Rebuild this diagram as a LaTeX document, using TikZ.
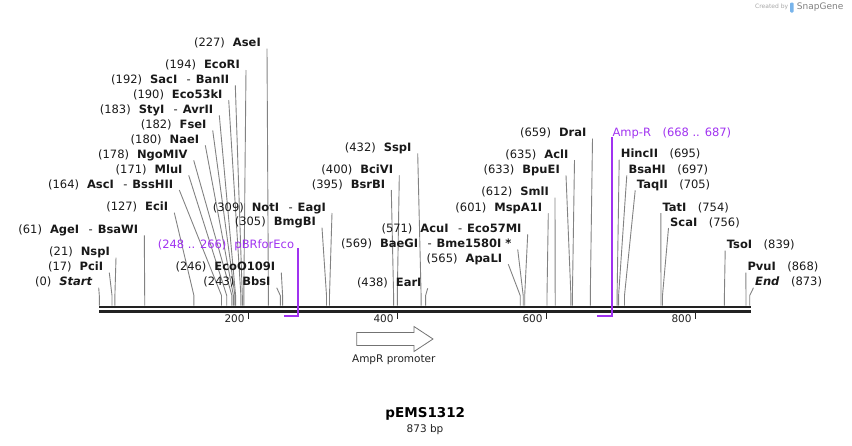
\documentclass[tikz,border=0pt]{standalone}
\usepackage{fontspec}
\setmainfont{DejaVu Sans}
\usetikzlibrary{calc}
\definecolor{featpurple}{RGB}{160,50,240}
\definecolor{bbone}{RGB}{34,34,34}
\definecolor{cutgray}{RGB}{130,130,130}
\definecolor{snapblue}{RGB}{120,180,235}
\newcommand{\lgap}{\hspace{8pt}}
\newcommand{\rgap}{\hspace{11.5pt}}
\newcommand{\orcut}{\hspace{9.4pt}-\hspace{5pt}}
\tikzset{%
  lab/.style      = {font=\fontsize{11.5}{13}\selectfont, text=black!90, inner sep=0pt,
    text height=8.4pt, text depth=0pt},
  labl/.style     = {lab, anchor=east},
  labr/.style     = {lab, anchor=west},
  cutline/.style  = {draw=cutgray, line width=0.9pt},
  featline/.style = {draw=featpurple, line width=1.6pt},
  backbone/.style = {draw=bbone, line width=2.7pt},
  tickmark/.style = {draw=bbone, line width=1.4pt},
  ticklab/.style  = {font=\fontsize{10.5}{12}\selectfont, text=bbone, inner sep=0pt, anchor=east}
}

\begin{document}
\begin{tikzpicture}[x=1pt, y=-1pt]
    \useasboundingbox (0,0) rectangle (852,445);

    %sites on the backbone
    \coordinate (s0) at (99.3,305.5);   \coordinate (s17) at (112.0,305.5);  \coordinate (s21) at (114.9,305.5);
    \coordinate (s61) at (144.7,305.5); \coordinate (s127) at (193.9,305.5); \coordinate (s164) at (221.5,305.5);
    \coordinate (s171) at (226.7,305.5); \coordinate (s178) at (231.9,305.5); \coordinate (s180) at (233.4,305.5);
    \coordinate (s182) at (234.9,305.5); \coordinate (s183) at (235.6,305.5); \coordinate (s190) at (240.9,305.5);
    \coordinate (s192) at (242.3,305.5); \coordinate (s194) at (243.8,305.5); \coordinate (s227) at (268.4,305.5);
    \coordinate (s243) at (280.3,305.5); \coordinate (s246) at (282.6,305.5); \coordinate (s305) at (326.5,305.5);
    \coordinate (s309) at (329.5,305.5); \coordinate (s395) at (393.6,305.5); \coordinate (s400) at (397.3,305.5);
    \coordinate (s432) at (421.1,305.5); \coordinate (s438) at (425.6,305.5); \coordinate (s565) at (520.2,305.5);
    \coordinate (s569) at (523.2,305.5); \coordinate (s571) at (524.7,305.5); \coordinate (s601) at (547.0,305.5);
    \coordinate (s612) at (555.2,305.5); \coordinate (s633) at (570.9,305.5); \coordinate (s635) at (572.4,305.5);
    \coordinate (s659) at (590.3,305.5); \coordinate (s695) at (617.1,305.5); \coordinate (s697) at (618.6,305.5);
    \coordinate (s705) at (624.5,305.5); \coordinate (s754) at (661.0,305.5); \coordinate (s756) at (662.5,305.5);
    \coordinate (s839) at (724.4,305.5); \coordinate (s868) at (746.0,305.5); \coordinate (s873) at (749.7,305.5);

    %backbone
    \draw[backbone] (99.3,307) -- (751,307);
    \draw[backbone] (99.3,311.3) -- (751,311.3);

    %ruler
    \draw[tickmark] (248.3,312.5) -- (248.3,319);
    \node[ticklab] (t200) at (244.8,319) {200};
    \draw[tickmark] (397.3,312.5) -- (397.3,319);
    \node[ticklab] (t400) at (393.8,319) {400};
    \draw[tickmark] (546.3,312.5) -- (546.3,319);
    \node[ticklab] (t600) at (542.8,319) {600};
    \draw[tickmark] (695.3,312.5) -- (695.3,319);
    \node[ticklab] (t800) at (691.8,319) {800};

    %left cluster
    \node[labl] (aseI) at (261,42.7) {(227)\lgap\textbf{AseI}};
    \draw[cutline] ([shift={(6,6)}]aseI.east) -- ([yshift=10pt]s227) -- (s227);
    \node[labl] (ecoRI) at (240,64) {(194)\lgap\textbf{EcoRI}};
    \draw[cutline] ([shift={(6,6)}]ecoRI.east) -- ([yshift=10pt]s194) -- (s194);
    \node[labl] (sacI) at (229.3,79.3) {(192)\lgap\textbf{SacI}\orcut\textbf{BanII}};
    \draw[cutline] ([shift={(6,6)}]sacI.east) -- ([yshift=10pt]s192) -- (s192);
    \node[labl] (eco53kI) at (222.7,94) {(190)\lgap\textbf{Eco53kI}};
    \draw[cutline] ([shift={(6,6)}]eco53kI.east) -- ([yshift=10pt]s190) -- (s190);
    \node[labl] (styI) at (213.3,109.3) {(183)\lgap\textbf{StyI}\orcut\textbf{AvrII}};
    \draw[cutline] ([shift={(6,6)}]styI.east) -- ([yshift=10pt]s183) -- (s183);
    \node[labl] (fseI) at (206.7,124.3) {(182)\lgap\textbf{FseI}};
    \draw[cutline] ([shift={(6,6)}]fseI.east) -- ([yshift=10pt]s182) -- (s182);
    \node[labl] (naeI) at (199.3,139.3) {(180)\lgap\textbf{NaeI}};
    \draw[cutline] ([shift={(6,6)}]naeI.east) -- ([yshift=10pt]s180) -- (s180);
    \node[labl] (ngoMIV) at (187.7,154.3) {(178)\lgap\textbf{NgoMIV}};
    \draw[cutline] ([shift={(6,6)}]ngoMIV.east) -- ([yshift=10pt]s178) -- (s178);
    \node[labl] (mluI) at (182.7,169.3) {(171)\lgap\textbf{MluI}};
    \draw[cutline] ([shift={(6,6)}]mluI.east) -- ([yshift=10pt]s171) -- (s171);
    \node[labl] (ascI) at (173.3,184) {(164)\lgap\textbf{AscI}\orcut\textbf{BssHII}};
    \draw[cutline] ([shift={(6,6)}]ascI.east) -- ([yshift=10pt]s164) -- (s164);
    \node[labl] (eciI) at (168.3,206.7) {(127)\lgap\textbf{EciI}};
    \draw[cutline] ([shift={(6,6)}]eciI.east) -- ([yshift=10pt]s127) -- (s127);
    \node[labl] (ageI) at (138.3,229.3) {(61)\lgap\textbf{AgeI}\orcut\textbf{BsaWI}};
    \draw[cutline] ([shift={(6,6)}]ageI.east) -- ([yshift=10pt]s61) -- (s61);
    \node[labl] (nspI) at (110,251.7) {(21)\lgap\textbf{NspI}};
    \draw[cutline] ([shift={(6,6)}]nspI.east) -- ([yshift=10pt]s21) -- (s21);
    \node[labl] (pciI) at (103.3,266.7) {(17)\lgap\textbf{PciI}};
    \draw[cutline] ([shift={(6,6)}]pciI.east) -- ([yshift=10pt]s17) -- (s17);
    \node[labl] (startlab) at (92.7,281.7) {(0)\lgap\textbf{\textit{Start}}};
    \draw[cutline] ([shift={(6,6)}]startlab.east) -- ([yshift=10pt]s0) -- (s0);

    %around pBRforEco
    \node[labl] (notI) at (326,207) {(309)\lgap\textbf{NotI}\orcut\textbf{EagI}};
    \draw[cutline] ([shift={(6,6)}]notI.east) -- ([yshift=10pt]s309) -- (s309);
    \node[labl] (bmgBI) at (316,221.7) {(305)\lgap\textbf{BmgBI}};
    \draw[cutline] ([shift={(6,6)}]bmgBI.east) -- ([yshift=10pt]s305) -- (s305);
    \node[labl] (ecoO109I) at (275.3,266.7) {(246)\lgap\textbf{EcoO109I}};
    \draw[cutline] ([shift={(6,6)}]ecoO109I.east) -- ([yshift=10pt]s246) -- (s246);
    \node[labl] (bbsI) at (270.7,281.7) {(243)\lgap\textbf{BbsI}};
    \draw[cutline] ([shift={(6,6)}]bbsI.east) -- ([yshift=10pt]s243) -- (s243);
    \node[labl, text=featpurple] (pbr) at (294.3,244) {(248 .. 266)\lgap pBRforEco};
    \coordinate (pbrS) at (284.1,316);
    \coordinate (pbrE) at (298.2,316);
    \draw[featline] (pbrE |- pbr.south) -- (pbrE) -- (pbrS);

    %middle
    \node[labl] (sspI) at (411.7,147.3) {(432)\lgap\textbf{SspI}};
    \draw[cutline] ([shift={(6,6)}]sspI.east) -- ([yshift=10pt]s432) -- (s432);
    \node[labl] (bciVI) at (393.3,169.3) {(400)\lgap\textbf{BciVI}};
    \draw[cutline] ([shift={(6,6)}]bciVI.east) -- ([yshift=10pt]s400) -- (s400);
    \node[labl] (bsrBI) at (385.3,184) {(395)\lgap\textbf{BsrBI}};
    \draw[cutline] ([shift={(6,6)}]bsrBI.east) -- ([yshift=10pt]s395) -- (s395);
    \node[labl] (earI) at (421.7,282.3) {(438)\lgap\textbf{EarI}};
    \draw[cutline] ([shift={(6,6)}]earI.east) -- ([yshift=10pt]s438) -- (s438);
    \node[labl] (acuI) at (521.7,228.3) {(571)\lgap\textbf{AcuI}\orcut\textbf{Eco57MI}};
    \draw[cutline] ([shift={(6,6)}]acuI.east) -- ([yshift=10pt]s571) -- (s571);
    \node[labl] (baeGI) at (511.7,243.3) {(569)\lgap\textbf{BaeGI}\orcut\textbf{Bme1580I *}};
    \draw[cutline] ([shift={(6,6)}]baeGI.east) -- ([yshift=10pt]s569) -- (s569);
    \node[labl] (apaLI) at (502.3,258.3) {(565)\lgap\textbf{ApaLI}};
    \draw[cutline] ([shift={(6,6)}]apaLI.east) -- ([yshift=10pt]s565) -- (s565);
    \node[labl] (mspA1I) at (542.3,207.3) {(601)\lgap\textbf{MspA1I}};
    \draw[cutline] ([shift={(6,6)}]mspA1I.east) -- ([yshift=10pt]s601) -- (s601);
    \node[labl] (smlI) at (549,191.7) {(612)\lgap\textbf{SmlI}};
    \draw[cutline] ([shift={(6,6)}]smlI.east) -- ([yshift=10pt]s612) -- (s612);
    \node[labl] (bpuEI) at (560,169.3) {(633)\lgap\textbf{BpuEI}};
    \draw[cutline] ([shift={(6,6)}]bpuEI.east) -- ([yshift=10pt]s633) -- (s633);
    \node[labl] (aclI) at (568.5,154) {(635)\lgap\textbf{AclI}};
    \draw[cutline] ([shift={(6,6)}]aclI.east) -- ([yshift=10pt]s635) -- (s635);
    \node[labl] (draI) at (586.5,132.5) {(659)\lgap\textbf{DraI}};
    \draw[cutline] ([shift={(6,6)}]draI.east) -- ([yshift=10pt]s659) -- (s659);

    %Amp-R and right cluster
    \node[labr, text=featpurple] (ampR) at (612.3,132.5) {Amp-R\rgap(668 .. 687)};
    \coordinate (ampS) at (597.0,315.7);
    \coordinate (ampE) at (611.9,315.7);
    \draw[featline] (ampE |- ampR.south) -- (ampE) -- (ampS);
    \node[labr] (hincII) at (620.7,153.7) {\textbf{HincII}\rgap(695)};
    \draw[cutline] ([shift={(-1.5,6)}]hincII.west) -- ([yshift=10pt]s695) -- (s695);
    \node[labr] (bsaHI) at (628.3,169.3) {\textbf{BsaHI}\rgap(697)};
    \draw[cutline] ([shift={(-1.5,6)}]bsaHI.west) -- ([yshift=10pt]s697) -- (s697);
    \node[labr] (taqII) at (636.7,184.3) {\textbf{TaqII}\rgap(705)};
    \draw[cutline] ([shift={(-1.5,6)}]taqII.west) -- ([yshift=10pt]s705) -- (s705);
    \node[labr] (tatI) at (662.3,207) {\textbf{TatI}\rgap(754)};
    \draw[cutline] ([shift={(-1.5,6)}]tatI.west) -- ([yshift=10pt]s754) -- (s754);
    \node[labr] (scaI) at (670,222) {\textbf{ScaI}\rgap(756)};
    \draw[cutline] ([shift={(-1.5,6)}]scaI.west) -- ([yshift=10pt]s756) -- (s756);
    \node[labr] (tsoI) at (726.7,244.5) {\textbf{TsoI}\rgap(839)};
    \draw[cutline] ([shift={(-1.5,6)}]tsoI.west) -- ([yshift=10pt]s839) -- (s839);
    \node[labr] (pvuI) at (747.3,266.7) {\textbf{PvuI}\rgap(868)};
    \draw[cutline] ([shift={(-1.5,6)}]pvuI.west) -- ([yshift=10pt]s868) -- (s868);
    \node[labr] (endlab) at (755,281.7) {\textbf{\textit{End}}\rgap(873)};
    \draw[cutline] ([shift={(-1.5,6)}]endlab.west) -- ([yshift=10pt]s873) -- (s873);

    %AmpR promoter
    \filldraw[draw=black!55, fill=white, line width=0.8pt] (356.7,332.5) -- (414,332.5) -- (414,326.5)
        -- (433,339) -- (414,351.5) -- (414,345.5) -- (356.7,345.5) -- cycle;
    \node[font=\fontsize{10.5}{12}\selectfont, text=bbone] (promo) at (393.8,360) {AmpR promoter};

    %name and length
    \node[font=\bfseries\fontsize{13.5}{15}\selectfont] (title) at (425.3,414) {pEMS1312};
    \node[font=\fontsize{10.5}{12}\selectfont, text=bbone] (length) at (425,429.3) {873 bp};

    %created by
    \node[font=\fontsize{6}{7}\selectfont, text=black!35, inner sep=0pt, anchor=west] (created) at (755,7.3) {Created by};
    \fill[snapblue, rounded corners=1pt] (790,2.5) rectangle (793.5,12.5);
    \node[font=\fontsize{9}{10}\selectfont, text=black!50, inner sep=0pt, anchor=west] (snapgene) at (796.7,7.3) {SnapGene};
\end{tikzpicture}
\end{document}
